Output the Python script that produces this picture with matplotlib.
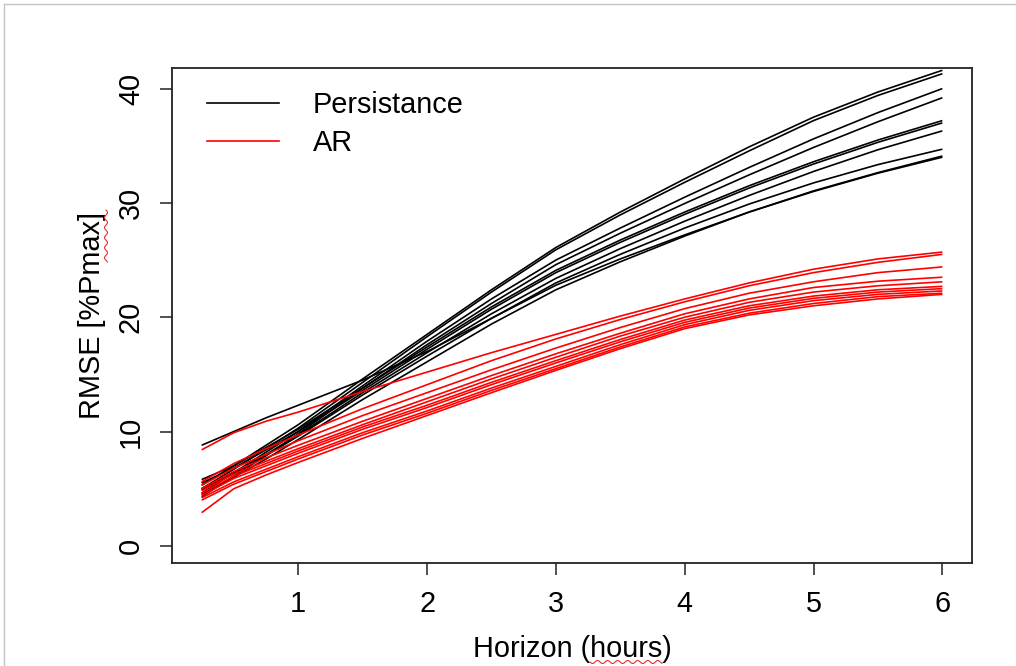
import matplotlib
matplotlib.use('Agg')
import matplotlib.pyplot as plt
from matplotlib.lines import Line2D
import numpy as np

plt.rcParams['font.family'] = ['Liberation Sans', 'DejaVu Sans']

# ---------------- data ----------------
horizon_hours = [0.25, 0.5, 0.75, 1, 1.5, 2, 2.5, 3, 3.5, 4, 4.5, 5, 5.5, 6]

persistence_rmse = [
    [5.3, 7.0, 8.8, 10.6, 14.6, 18.5, 22.4, 26.1, 29.2, 32.1, 34.9, 37.5, 39.7, 41.6],
    [5.0, 6.7, 8.5, 10.3, 14.3, 18.3, 22.2, 25.9, 28.95, 31.8, 34.55, 37.2, 39.4, 41.3],
    [4.6, 6.4, 8.2, 10.0, 14.0, 17.9, 21.6, 25.0, 27.8, 30.5, 33.1, 35.6, 37.9, 40.0],
    [4.3, 6.1, 7.9, 9.8, 13.8, 17.6, 21.2, 24.6, 27.35, 29.95, 32.45, 34.85, 37.1, 39.2],
    [5.8, 7.0, 8.6, 10.2, 13.8, 17.4, 20.9, 24.1, 26.75, 29.2, 31.5, 33.6, 35.5, 37.2],
    [5.5, 6.8, 8.4, 10.0, 13.6, 17.2, 20.7, 23.9, 26.55, 29.0, 31.3, 33.4, 35.3, 37.0],
    [5.0, 6.4, 8.0, 9.7, 13.4, 16.9, 20.3, 23.4, 26.0, 28.4, 30.65, 32.75, 34.65, 36.3],
    [4.9, 6.3, 7.9, 9.6, 13.2, 16.6, 19.9, 23.0, 25.5, 27.8, 29.9, 31.75, 33.35, 34.7],
    [4.5, 6.0, 7.6, 9.3, 12.8, 16.1, 19.4, 22.4, 24.85, 27.1, 29.2, 31.05, 32.65, 34.1],
    [8.8, 10.0, 11.2, 12.3, 14.5, 17.0, 19.9, 22.8, 25.1, 27.2, 29.2, 31.0, 32.6, 34.0],
]

ar_rmse = [
    [8.4, 9.9, 10.9, 11.7, 13.5, 15.2, 16.9, 18.5, 20.1, 21.6, 23.0, 24.2, 25.1, 25.7],
    [5.6, 7.2, 8.5, 9.7, 12.0, 14.1, 16.2, 18.1, 19.8, 21.35, 22.75, 23.9, 24.8, 25.5],
    [5.3, 6.8, 8.0, 9.2, 11.4, 13.4, 15.4, 17.3, 19.1, 20.75, 22.1, 23.1, 23.9, 24.4],
    [5.0, 6.5, 7.7, 8.8, 10.9, 12.9, 14.9, 16.8, 18.6, 20.3, 21.6, 22.6, 23.15, 23.5],
    [4.8, 6.3, 7.4, 8.5, 10.6, 12.6, 14.6, 16.5, 18.35, 20.0, 21.3, 22.2, 22.75, 23.1],
    [4.6, 6.1, 7.2, 8.3, 10.4, 12.3, 14.3, 16.2, 18.05, 19.75, 21.0, 21.85, 22.4, 22.7],
    [4.4, 5.9, 7.0, 8.1, 10.2, 12.1, 14.1, 16.0, 17.85, 19.55, 20.8, 21.65, 22.2, 22.5],
    [4.2, 5.6, 6.7, 7.8, 9.9, 11.8, 13.8, 15.7, 17.6, 19.35, 20.6, 21.45, 22.0, 22.3],
    [4.0, 5.4, 6.5, 7.6, 9.7, 11.6, 13.6, 15.5, 17.4, 19.15, 20.35, 21.2, 21.8, 22.1],
    [2.9, 5.0, 6.2, 7.3, 9.4, 11.4, 13.4, 15.35, 17.25, 19.0, 20.2, 21.0, 21.6, 22.0],
]

x_ticks = [1, 2, 3, 4, 5, 6]
y_ticks = [0, 10, 20, 30, 40]
series_names = ['Persistance', 'AR']
x_label = 'Horizon (hours)'
y_label = 'RMSE [%Pmax]'

# ---------------- figure ----------------
W, H = 1016, 666
fig = plt.figure(figsize=(W / 100, H / 100), dpi=100)
L, R, T, B = 172, 972, 68, 563
ax = fig.add_axes([L / W, 1 - B / H, (R - L) / W, (B - T) / H])

FS = 20.8
for row in persistence_rmse:
    ax.plot(horizon_hours, row, color='black', lw=1.2, solid_capstyle='butt')
for row in ar_rmse:
    ax.plot(horizon_hours, row, color='#ff0000', lw=1.2, solid_capstyle='butt')

ax.set_xlim(0.02, 6.23)
ax.set_ylim(-1.5, 41.8)
ax.set_xticks(x_ticks)
ax.set_yticks(y_ticks)
ax.tick_params(direction='out', length=8.5, width=1.1, color='#222222',
               labelsize=FS, pad=11)
for lab in ax.get_yticklabels():
    lab.set_rotation(90)
    lab.set_va('center')
for sp in ax.spines.values():
    sp.set_linewidth(1.3)
    sp.set_color('#222222')

ax.set_xlabel(x_label, fontsize=FS)
ax.xaxis.set_label_coords(0.5, -0.146)
ax.set_ylabel(y_label, fontsize=FS)
ax.yaxis.set_label_coords(-0.082, 0.5)

handles = [Line2D([], [], color='black', lw=1.2),
           Line2D([], [], color='#ff0000', lw=1.2)]
ax.legend(handles, series_names, loc='upper left', frameon=False,
          bbox_to_anchor=((207 - L) / (R - L), (B - 91) / (B - T)),
          borderpad=0, borderaxespad=0, fontsize=FS,
          handlelength=2.5, handletextpad=1.15, labelspacing=0.34)

# screenshot frame lines
fig.add_artist(Line2D([4 / W, 1], [1 - 4 / H, 1 - 4 / H], color='#c4c4c4', lw=1,
                      transform=fig.transFigure))
fig.add_artist(Line2D([4 / W, 4 / W], [0, 1 - 4 / H], color='#c4c4c4', lw=1,
                      transform=fig.transFigure))

# spell-check squiggles
def squiggle(x0, x1, y, vertical=False):
    t = np.linspace(0, 1, 120)
    a = x0 + (x1 - x0) * t
    b = y + 1.5 * np.sin((a - x0) / 1.6)
    if vertical:
        xs, ys = b, a
    else:
        xs, ys = a, b
    fig.add_artist(Line2D(xs / W, 1 - ys / H, color='#e03030', lw=0.8,
                          transform=fig.transFigure))

squiggle(590, 662, 662)
squiggle(210, 262, 106, vertical=True)

fig.savefig('out.png', dpi=100)
